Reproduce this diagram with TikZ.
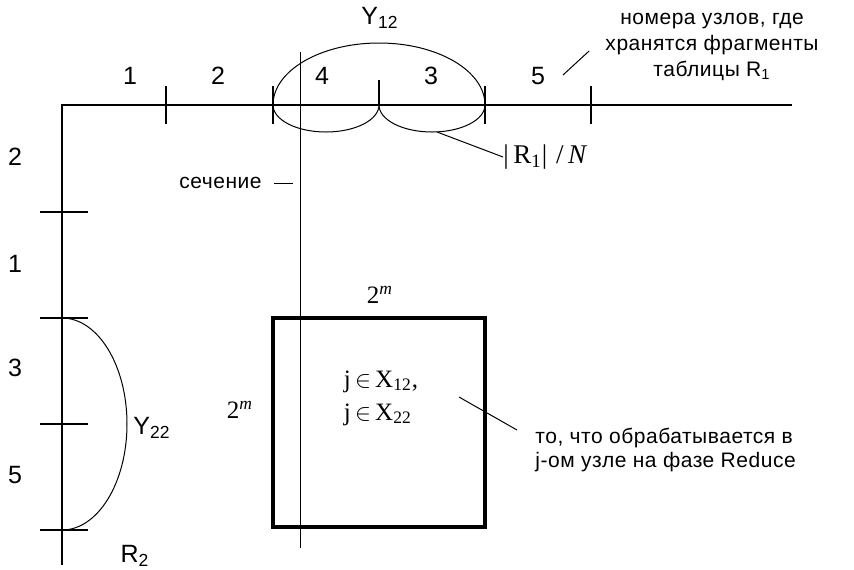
\documentclass[tikz,border=0pt]{standalone}
\usepackage{fontspec}
\setmainfont{Liberation Sans}
\newfontfamily\tnr{Liberation Serif}
\usetikzlibrary{positioning}
\tikzset{
    axis/.style={line width=1pt},
    tickmark/.style={line width=1pt},
    thin line/.style={line width=0.5pt},
    num/.style={font=\fontsize{12.5}{14}\selectfont, inner sep=0pt},
    note/.style={font=\fontsize{10.5}{12}\selectfont\addfontfeature{LetterSpace=2.5}, inner sep=0pt},
    formula/.style={font=\tnr\fontsize{12.5}{16.5}\selectfont, inner sep=0pt},
    block/.style={rectangle, draw, line width=1.8pt, minimum width=106pt, minimum height=104.5pt},
}

\begin{document}
\begin{tikzpicture}[x=0.5pt, y=-0.5pt]
    \useasboundingbox (0,0) rectangle (854,569);
    % axes R1 and R2
    \coordinate (origin) at (62,105);
    \coordinate (r1end) at (792,105);
    \coordinate (r2end) at (62,565);
    \draw[axis] (r1end) -- (origin) -- (r2end);
    \foreach \x in {166,273,485,591}
        \draw[tickmark] (\x,86) -- (\x,124);
    \draw[tickmark] (379,80) -- (379,105);
    \foreach \y in {212,318,424,530}
        \draw[tickmark] (40,\y) -- (88,\y);
    \foreach \x/\t in {130/1, 218/2, 322/4, 431/3, 538/5}
        \node[num] at (\x,76) {\t};
    \foreach \y/\t in {157/2, 264/1, 368/3, 475/5}
        \node[num] at (15,\y) {\t};
    \node[num] (r2) at (135,556) {R\textsubscript{2}};

    % fragment groups
    \draw[thin line] (273,105) arc[start angle=180, end angle=0, x radius=53pt, y radius=31pt];
    \draw[thin line] (273,105) arc[start angle=180, end angle=360, x radius=26.5pt, y radius=13.5pt];
    \draw[thin line] (379,105) arc[start angle=180, end angle=360, x radius=26.5pt, y radius=13.5pt];
    \draw[thin line] (62,318) arc[start angle=90, end angle=-90, x radius=32.5pt, y radius=53pt];
    \node[num] (y12) at (380,18) {Y\textsubscript{12}};
    \node[num] (y22) at (152,428) {Y\textsubscript{22}};

    % section line
    \coordinate (cuttop) at (300,52);
    \coordinate (cutbot) at (300,548);
    \draw[thin line] (cuttop) -- (cutbot);
    \node[note, anchor=east] (cut) at (262,183) {сечение};
    \coordinate (cutpt) at (293,183);
    \draw[thin line] ([xshift=6pt]cut.east) -- (cutpt);

    % size of fragment
    \coordinate (lobe) at (437,132);
    \node[formula, anchor=west, font=\tnr\fontsize{13.5}{16}\selectfont] (size) at (503,157) {|\,R\textsubscript{1}|\,\,/\,\textit{N}};
    \draw[thin line] (lobe) -- (size.west);

    % node numbers
    \node[note, align=center] (nums) at (712,47) {номера узлов, где\\[1pt]хранятся фрагменты\\[1pt]таблицы R\textsubscript{1}};
    \coordinate (numpt) at (563,75);
    \draw[thin line] (numpt) -- ([xshift=-8pt, yshift=-2pt]nums.west);

    % reduce block
    \node[block] (box) at (379,422.5) {};
    \node[formula, align=left] (cond) at (381,398) {j\,$\in$\,X\textsubscript{12},\\j\,$\in$\,X\textsubscript{22}};
    \node[formula] (top) at (380,295) {2\textsuperscript{\itshape m}};
    \node[formula] (side) at (240,410) {2\textsuperscript{\itshape m}};
    \coordinate (inbox) at (459,397);
    \node[note, align=left, anchor=north west] (reduce) at (535,428) {то, что обрабатывается в\\j-ом узле на фазе Reduce};
    \draw[thin line] (inbox) -- ([xshift=-9pt, yshift=-1pt]reduce.north west);
\end{tikzpicture}
\end{document}
